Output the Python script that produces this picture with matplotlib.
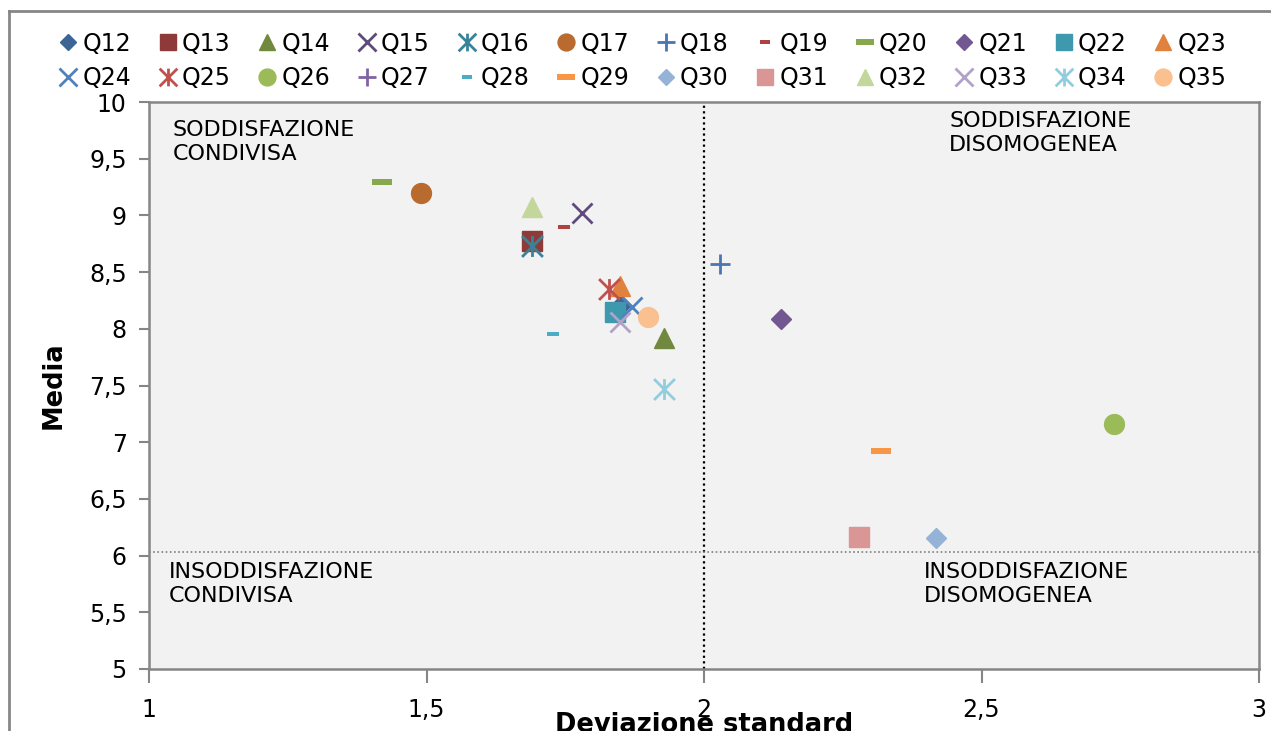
import matplotlib
matplotlib.use("Agg")
import matplotlib.pyplot as plt
from matplotlib.path import Path
from matplotlib.lines import Line2D

# ---- data ----
labels = ["Q12", "Q13", "Q14", "Q15", "Q16", "Q17", "Q18", "Q19", "Q20", "Q21", "Q22", "Q23",
          "Q24", "Q25", "Q26", "Q27", "Q28", "Q29", "Q30", "Q31", "Q32", "Q33", "Q34", "Q35"]
dev_std = [1.850, 1.690, 1.928, 1.780, 1.690, 1.490, 2.029, 1.748, 1.420, 2.139, 1.840, 1.849,
           1.870, 1.829, 2.739, 2.279, 1.728, 2.319, 2.418, 2.279, 1.690, 1.849, 1.928, 1.899]
media = [8.21, 8.77, 7.92, 9.02, 8.73, 9.20, 8.57, 8.90, 9.295, 8.09, 8.15, 8.38,
         8.19, 8.35, 7.16, 6.16, 7.95, 6.92, 6.155, 6.16, 9.07, 8.06, 7.47, 8.10]
x_ref = 2.0
y_ref = 6.03
x_ticks = [1, 1.5, 2, 2.5, 3]
x_ticklabels = ["1", "1,5", "2", "2,5", "3"]
y_ticks = [5, 5.5, 6, 6.5, 7, 7.5, 8, 8.5, 9, 9.5, 10]
y_ticklabels = ["5", "5,5", "6", "6,5", "7", "7,5", "8", "8,5", "9", "9,5", "10"]

# ---- styles ----
colors = ["#3C6596", "#8E3A38", "#71893F", "#5E4A7C", "#37849A", "#B96A2E",
          "#4A76B0", "#B0413E", "#88A84E", "#715890", "#3E98AE", "#E0823D",
          "#4F81BD", "#C0504D", "#9BBB59", "#8064A2", "#4BACC6", "#F79646",
          "#95B3D7", "#D99694", "#C3D69B", "#B3A2C7", "#93CDDD", "#FAC090"]

asterisk = Path([(0, -1), (0, 1), (-1, -1), (1, 1), (-1, 1), (1, -1)],
                [Path.MOVETO, Path.LINETO, Path.MOVETO, Path.LINETO, Path.MOVETO, Path.LINETO])
dash = Path([(-1, -0.3), (1, -0.3), (1, 0.3), (-1, 0.3), (-1, -0.3)],
            [Path.MOVETO, Path.LINETO, Path.LINETO, Path.LINETO, Path.CLOSEPOLY])

# marker kinds per series (Excel cycle of 9)
kinds = ["D", "s", "^", "x", "*", "o", "+", "sd", "ld",
         "D", "s", "^", "x", "*", "o", "+", "sd", "ld",
         "D", "s", "^", "x", "*", "o"]

fig = plt.figure(figsize=(12.71, 7.31), dpi=100)
ax = fig.add_axes([149 / 1271, 1 - 669 / 731, (1259 - 149) / 1271, (669 - 102) / 731])
ax.set_facecolor("#F2F2F2")

handles = []
for i, (lab, xv, yv, c, k) in enumerate(zip(labels, dev_std, media, colors, kinds)):
    kw = dict(linestyle="none", color=c, label=lab, zorder=3 + i * 0.01)
    if k == "D":
        kw.update(marker="D", markersize=10, markeredgewidth=1)
    elif k in ("s", "o", "^"):
        kw.update(marker=k, markersize=14.3, markeredgewidth=1)
    elif k in ("x", "+"):
        kw.update(marker=k, markersize=15, markeredgewidth=2)
    elif k == "*":
        kw.update(marker=asterisk, markersize=15, markeredgewidth=2, markerfacecolor="none")
    elif k == "sd":
        kw.update(marker=dash, markersize=9, markeredgewidth=0)
    else:
        kw.update(marker=dash, markersize=15, markeredgewidth=0)
    h, = ax.plot([xv], [yv], **kw)
    handles.append(h)

ax.axvline(x_ref, color="black", linestyle=(0, (1, 1.5)), linewidth=1.6, zorder=2)
ax.axhline(y_ref, color="#7F7F7F", linestyle=(0, (1, 1.5)), linewidth=1.2, zorder=2)

ax.set_xlim(1, 3)
ax.set_ylim(5, 10)
ax.set_xticks(x_ticks)
ax.set_xticklabels(x_ticklabels)
ax.set_yticks(y_ticks)
ax.set_yticklabels(y_ticklabels)
for s in ax.spines.values():
    s.set_color("#868686")
    s.set_linewidth(1.8)
ax.tick_params(axis="x", direction="out", length=10, width=1.5, color="#868686",
               labelsize=17, pad=11)
ax.tick_params(axis="y", direction="out", length=7, width=1.5, color="#868686",
               labelsize=17, pad=9)

ax.set_xlabel("Deviazione standard", fontsize=18.5, fontweight="bold", labelpad=-7)
ax.set_ylabel("Media", fontsize=18.5, fontweight="bold", labelpad=16)

qfs = 16
ax.text(1.042, 9.84, "SODDISFAZIONE\nCONDIVISA", fontsize=qfs, va="top", ha="left",
        linespacing=1.25)
ax.text(2.442, 9.92, "SODDISFAZIONE\nDISOMOGENEA", fontsize=qfs, va="top", ha="left",
        linespacing=1.25)
ax.text(1.035, 5.94, "INSODDISFAZIONE\nCONDIVISA", fontsize=qfs, va="top", ha="left",
        linespacing=1.25)
ax.text(2.397, 5.94, "INSODDISFAZIONE\nDISOMOGENEA", fontsize=qfs, va="top", ha="left",
        linespacing=1.25)

# legend: two rows, row-major order
order = []
for k in range(12):
    order.append(handles[k])
    order.append(handles[k + 12])
fig.legend(handles=order, labels=[h.get_label() for h in order], ncol=12,
           loc="center", bbox_to_anchor=(0.505, 1 - 61 / 731), frameon=False,
           fontsize=17, handlelength=0.9, handletextpad=0.15, columnspacing=1.1,
           labelspacing=0.45, markerscale=0.85, borderpad=0.2)

# chart-area border
fig.add_artist(Line2D([9 / 1271, 9 / 1271], [0, 1 - 11 / 731], color="#868686", linewidth=2,
                      transform=fig.transFigure))
fig.add_artist(Line2D([9 / 1271, 1], [1 - 11 / 731, 1 - 11 / 731], color="#868686", linewidth=2,
                      transform=fig.transFigure))

fig.savefig("out.png", dpi=100)
